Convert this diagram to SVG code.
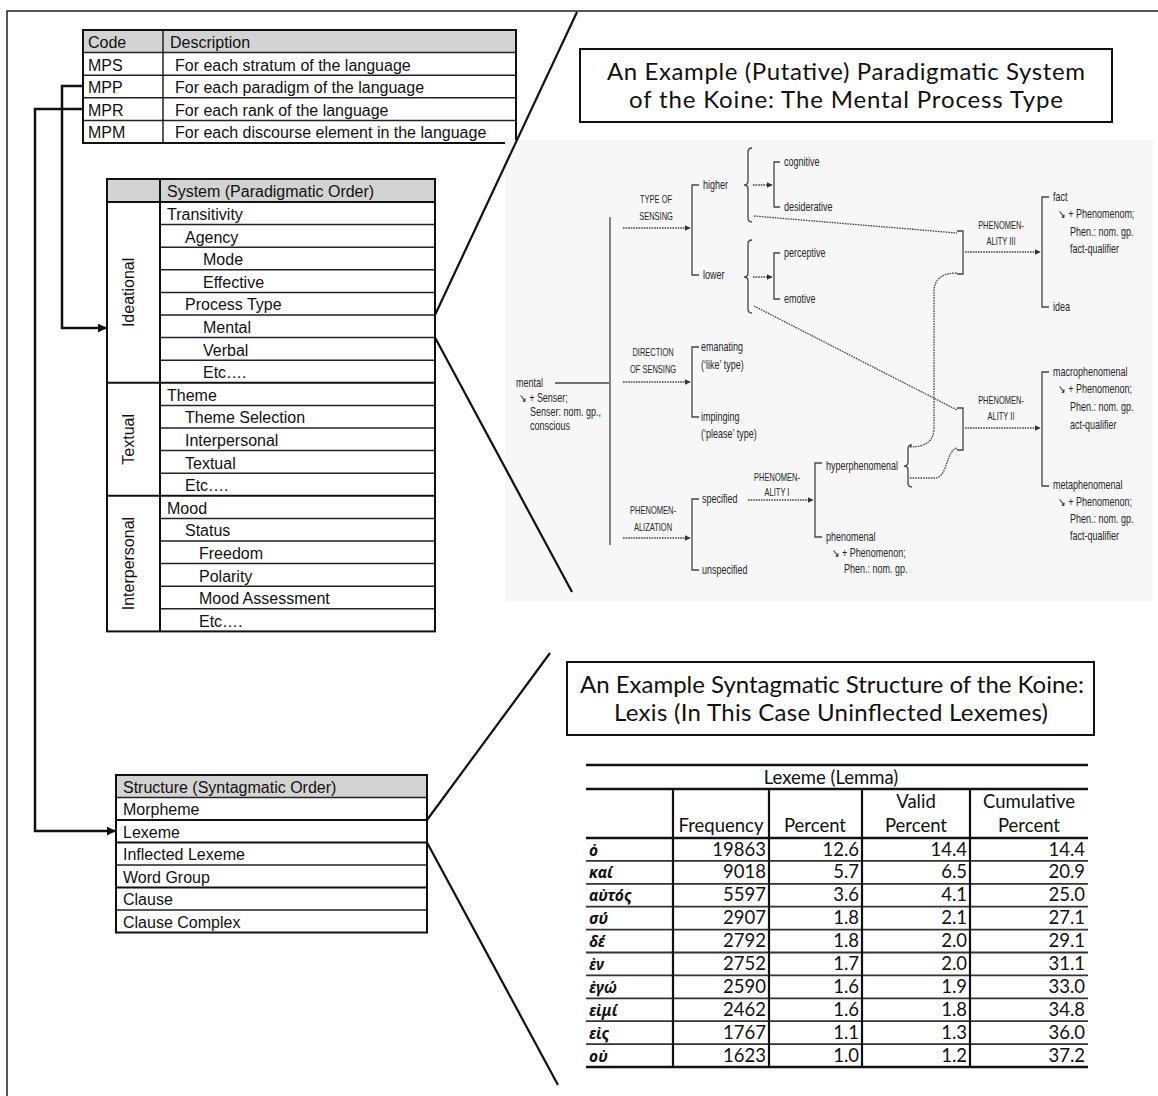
<svg xmlns="http://www.w3.org/2000/svg" width="1158" height="1096" viewBox="0 0 1158 1096">
  <defs>
    <marker id="arrowHead" viewBox="0 0 10 10" refX="9" refY="5" markerWidth="9" markerHeight="9" markerUnits="userSpaceOnUse" orient="auto">
      <path d="M0,0 L10,5 L0,10 z" fill="#111"/>
    </marker>
    <marker id="netArrow" viewBox="0 0 10 10" refX="9" refY="5" markerWidth="6" markerHeight="6" markerUnits="userSpaceOnUse" orient="auto">
      <path d="M0,0 L10,5 L0,10 z" fill="#333"/>
    </marker>
  </defs>
  <style>
    .frame { fill: none; stroke: #222; stroke-width: 1.5 }
    .border { fill: none; stroke: #111; stroke-width: 2 }
    .rule { stroke: #222; stroke-width: 1.5 }
    .head { fill: #d3d3d3 }
    .t { font-family: "Liberation Sans", Arial, sans-serif; font-size: 16px; fill: #111 }
    .conn { fill: none; stroke: #111; stroke-width: 2.5 }
    .zoom { fill: none; stroke: #111; stroke-width: 2.2 }
    .title { font-family: Lato, "Open Sans", sans-serif; font-size: 24px; fill: #111; text-anchor: middle }
    .net { font-family: "Liberation Sans", Arial, sans-serif; font-size: 12px; fill: #262626 }
    .cap { font-size: 10px; text-anchor: middle }
    .nl { fill: none; stroke: #444; stroke-width: 1.3 }
    .nd { fill: none; stroke: #444; stroke-width: 1.3; stroke-dasharray: 1.6 1 }
    .lx { font-family: Lato, "Open Sans", sans-serif; font-size: 18.5px; fill: #111 }
    .num { text-anchor: end }
    .mid { text-anchor: middle }
    .gk { font-family: "Noto Sans", "Open Sans", "DejaVu Sans", sans-serif; font-size: 15.5px; font-weight: bold; font-style: italic; fill: #111 }
    .thick { stroke: #111; stroke-width: 2.6 }
    .rowline { stroke: #333; stroke-width: 1.8 }
    .col { stroke: #111; stroke-width: 2.2 }
  </style>

  <!-- outer frame: only top and left edges fall inside the page -->
  <path class="frame" d="M7,1096 V11 H1158"/>

  <!-- code table -->
  <g id="code-table">
    <rect class="head" x="83" y="30" width="433" height="22.6"/>
    <line class="rule" x1="83" y1="52.6" x2="516" y2="52.6"/>
    <line class="rule" x1="83" y1="75.2" x2="516" y2="75.2"/>
    <line class="rule" x1="83" y1="97.8" x2="516" y2="97.8"/>
    <line class="rule" x1="83" y1="120.4" x2="516" y2="120.4"/>
    <line class="rule" x1="163" y1="30" x2="163" y2="143"/>
    <rect class="border" x="83" y="30" width="433" height="113"/>
    <text class="t" x="88" y="48">Code</text>
    <text class="t" x="170" y="48">Description</text>
    <text class="t" x="88" y="70.6">MPS</text>
    <text class="t" x="175" y="70.6">For each stratum of the language</text>
    <text class="t" x="88" y="93.2">MPP</text>
    <text class="t" x="175" y="93.2">For each paradigm of the language</text>
    <text class="t" x="88" y="115.8">MPR</text>
    <text class="t" x="175" y="115.8">For each rank of the language</text>
    <text class="t" x="88" y="138.4">MPM</text>
    <text class="t" x="175" y="138.4">For each discourse element in the language</text>
  </g>

  <!-- system (paradigmatic order) table -->
  <g id="system-table">
    <rect class="head" x="107" y="179" width="328" height="23"/>
    <g>
      <line class="rule" x1="160" y1="224.6" x2="435" y2="224.6"/>
      <line class="rule" x1="160" y1="247.2" x2="435" y2="247.2"/>
      <line class="rule" x1="160" y1="269.8" x2="435" y2="269.8"/>
      <line class="rule" x1="160" y1="292.4" x2="435" y2="292.4"/>
      <line class="rule" x1="160" y1="315" x2="435" y2="315"/>
      <line class="rule" x1="160" y1="337.6" x2="435" y2="337.6"/>
      <line class="rule" x1="160" y1="360.2" x2="435" y2="360.2"/>
      <line class="rule" x1="160" y1="405.4" x2="435" y2="405.4"/>
      <line class="rule" x1="160" y1="428" x2="435" y2="428"/>
      <line class="rule" x1="160" y1="450.6" x2="435" y2="450.6"/>
      <line class="rule" x1="160" y1="473.2" x2="435" y2="473.2"/>
      <line class="rule" x1="160" y1="518.4" x2="435" y2="518.4"/>
      <line class="rule" x1="160" y1="541" x2="435" y2="541"/>
      <line class="rule" x1="160" y1="563.6" x2="435" y2="563.6"/>
      <line class="rule" x1="160" y1="586.2" x2="435" y2="586.2"/>
      <line class="rule" x1="160" y1="608.8" x2="435" y2="608.8"/>
    </g>
    <line class="border" x1="107" y1="202" x2="435" y2="202"/>
    <line class="border" x1="107" y1="382.8" x2="435" y2="382.8"/>
    <line class="border" x1="107" y1="495.8" x2="435" y2="495.8"/>
    <line class="border" x1="160" y1="179" x2="160" y2="631.4"/>
    <rect class="border" x="107" y="179" width="328" height="452.4"/>
    <text class="t" x="167" y="197">System (Paradigmatic Order)</text>
    <text class="t" x="167" y="220">Transitivity</text>
    <text class="t" x="185" y="242.6">Agency</text>
    <text class="t" x="203" y="265.2">Mode</text>
    <text class="t" x="203" y="287.8">Effective</text>
    <text class="t" x="185" y="310.4">Process Type</text>
    <text class="t" x="203" y="333">Mental</text>
    <text class="t" x="203" y="355.6">Verbal</text>
    <text class="t" x="203" y="378.2">Etc….</text>
    <text class="t" x="167" y="400.8">Theme</text>
    <text class="t" x="185" y="423.4">Theme Selection</text>
    <text class="t" x="185" y="446">Interpersonal</text>
    <text class="t" x="185" y="468.6">Textual</text>
    <text class="t" x="185" y="491.2">Etc….</text>
    <text class="t" x="167" y="513.8">Mood</text>
    <text class="t" x="185" y="536.4">Status</text>
    <text class="t" x="199" y="559">Freedom</text>
    <text class="t" x="199" y="581.6">Polarity</text>
    <text class="t" x="199" y="604.2">Mood Assessment</text>
    <text class="t" x="199" y="626.8">Etc….</text>
    <text class="t" text-anchor="middle" transform="translate(134,292.4) rotate(-90)">Ideational</text>
    <text class="t" text-anchor="middle" transform="translate(134,439.3) rotate(-90)">Textual</text>
    <text class="t" text-anchor="middle" transform="translate(134,563.6) rotate(-90)">Interpersonal</text>
  </g>

  <!-- structure (syntagmatic order) table -->
  <g id="structure-table">
    <rect class="head" x="116" y="775" width="311" height="22.5"/>
    <line class="rule" x1="116" y1="797.5" x2="427" y2="797.5"/>
    <line class="border" x1="116" y1="820" x2="427" y2="820"/>
    <line class="border" x1="116" y1="842.5" x2="427" y2="842.5"/>
    <line class="rule" x1="116" y1="865" x2="427" y2="865"/>
    <line class="border" x1="116" y1="887.5" x2="427" y2="887.5"/>
    <line class="rule" x1="116" y1="910" x2="427" y2="910"/>
    <rect class="border" x="116" y="775" width="311" height="157.5"/>
    <text class="t" x="123" y="792.5">Structure (Syntagmatic Order)</text>
    <text class="t" x="123" y="815">Morpheme</text>
    <text class="t" x="123" y="837.5">Lexeme</text>
    <text class="t" x="123" y="860">Inflected Lexeme</text>
    <text class="t" x="123" y="882.5">Word Group</text>
    <text class="t" x="123" y="905">Clause</text>
    <text class="t" x="123" y="927.5">Clause Complex</text>
  </g>

  <!-- title boxes -->
  <g id="title-paradigmatic">
    <rect class="border" x="580" y="49" width="532" height="73"/>
    <text class="title" x="846" y="80" textLength="478" lengthAdjust="spacing">An Example (Putative) Paradigmatic System</text>
    <text class="title" x="846" y="108" textLength="434" lengthAdjust="spacing">of the Koine: The Mental Process Type</text>
  </g>
  <g id="title-syntagmatic">
    <rect class="border" x="567" y="662" width="527" height="73"/>
    <text class="title" x="832" y="693" textLength="504" lengthAdjust="spacing">An Example Syntagmatic Structure of the Koine:</text>
    <text class="title" x="831" y="721" textLength="434" lengthAdjust="spacing">Lexis (In This Case Uninflected Lexemes)</text>
  </g>

  <!-- system network for the mental process type -->
  <g id="network">
    <rect x="505" y="140" width="648" height="462" fill="#f7f7f7"/>
    <!-- entry and its conjunction bar -->
    <line class="nl" x1="555" y1="383" x2="609" y2="383"/>
    <line class="nl" x1="610" y1="217" x2="610" y2="545"/>

    <!-- type of sensing -->
    <line class="nd" x1="623" y1="228" x2="690" y2="228" marker-end="url(#netArrow)"/>
    <path class="nl" d="M699,185 H692 V275 H699"/>
    <path class="nl" d="M752,148 Q748,148 748,152 V181 Q748,185 744,185 Q748,185 748,189 V218 Q748,222 752,222"/>
    <line class="nd" x1="753" y1="185" x2="772" y2="185" marker-end="url(#netArrow)"/>
    <path class="nl" d="M780,162 H774 V207 H780"/>
    <path class="nl" d="M752,240 Q748,240 748,244 V273 Q748,277 744,277 Q748,277 748,281 V309 Q748,313 752,313"/>
    <line class="nd" x1="753" y1="277" x2="772" y2="277" marker-end="url(#netArrow)"/>
    <path class="nl" d="M780,253 H774 V299 H780"/>

    <!-- direction of sensing -->
    <line class="nd" x1="623" y1="382" x2="690" y2="382" marker-end="url(#netArrow)"/>
    <path class="nl" d="M699,347 H692 V417 H699"/>

    <!-- phenomenalization -->
    <line class="nd" x1="623" y1="538" x2="690" y2="538" marker-end="url(#netArrow)"/>
    <path class="nl" d="M699,499 H692 V570 H699"/>

    <!-- phenomenality I -->
    <line class="nd" x1="748" y1="500" x2="813" y2="500" marker-end="url(#netArrow)"/>
    <path class="nl" d="M822,463 H815 V537 H822"/>
    <path class="nl" d="M912,445 Q908,445 908,449 V462 Q908,466 904,466 Q908,466 908,470 V483 Q908,487 912,487"/>

    <!-- links into phenomenality III and II -->
    <line class="nd" x1="754" y1="216" x2="957" y2="233"/>
    <line class="nd" x1="754" y1="306" x2="957" y2="410"/>
    <path class="nd" d="M910,447 Q934,447 934,428 V292 Q934,273 957,273"/>
    <path class="nd" d="M910,478 H935 C948,478 946,448 958,448"/>

    <!-- phenomenality III -->
    <path class="nl" d="M957,231 H963 V274 H957"/>
    <line class="nd" x1="965" y1="252" x2="1040" y2="252" marker-end="url(#netArrow)"/>
    <path class="nl" d="M1049,197 H1042 V307 H1049"/>

    <!-- phenomenality II -->
    <path class="nl" d="M957,408 H963 V450 H957"/>
    <line class="nd" x1="965" y1="428" x2="1040" y2="428" marker-end="url(#netArrow)"/>
    <path class="nl" d="M1049,372 H1042 V486 H1049"/>

    <!-- labels, set in a horizontally condensed frame (x values are divided by 0.75) -->
    <g transform="scale(0.75 1)">
      <text class="net" x="688" y="387">mental</text>
      <text class="net" x="692" y="402">↘ + Senser;</text>
      <text class="net" x="706.7" y="416">Senser: nom. gp.,</text>
      <text class="net" x="706.7" y="430">conscious</text>

      <text class="net cap" x="874.7" y="203">TYPE OF</text>
      <text class="net cap" x="874.7" y="220">SENSING</text>
      <text class="net" x="937.3" y="189">higher</text>
      <text class="net" x="937.3" y="279">lower</text>
      <text class="net" x="1045.3" y="166">cognitive</text>
      <text class="net" x="1045.3" y="211">desiderative</text>
      <text class="net" x="1045.3" y="257">perceptive</text>
      <text class="net" x="1045.3" y="303">emotive</text>

      <text class="net cap" x="870.7" y="356">DIRECTION</text>
      <text class="net cap" x="870.7" y="373">OF SENSING</text>
      <text class="net" x="934.7" y="351">emanating</text>
      <text class="net" x="934.7" y="369">(‘like’ type)</text>
      <text class="net" x="934.7" y="421">impinging</text>
      <text class="net" x="934.7" y="438">(‘please’ type)</text>

      <text class="net cap" x="870.7" y="514">PHENOMEN-</text>
      <text class="net cap" x="870.7" y="531">ALIZATION</text>
      <text class="net" x="936" y="503">specified</text>
      <text class="net" x="936" y="574">unspecified</text>

      <text class="net cap" x="1036" y="481">PHENOMEN-</text>
      <text class="net cap" x="1036" y="496">ALITY I</text>
      <text class="net" x="1101.3" y="470">hyperphenomenal</text>
      <text class="net" x="1101.3" y="541">phenomenal</text>
      <text class="net" x="1109.3" y="557">↘ + Phenomenon;</text>
      <text class="net" x="1125.3" y="573">Phen.: nom. gp.</text>

      <text class="net cap" x="1334.7" y="229">PHENOMEN-</text>
      <text class="net cap" x="1334.7" y="245">ALITY III</text>
      <text class="net" x="1404" y="201">fact</text>
      <text class="net" x="1410.7" y="218">↘ + Phenomenom;</text>
      <text class="net" x="1426.7" y="236">Phen.: nom. gp.</text>
      <text class="net" x="1426.7" y="253">fact-qualifier</text>
      <text class="net" x="1404" y="311">idea</text>

      <text class="net cap" x="1334.7" y="404">PHENOMEN-</text>
      <text class="net cap" x="1334.7" y="420">ALITY II</text>
      <text class="net" x="1404" y="376">macrophenomenal</text>
      <text class="net" x="1410.7" y="393">↘ + Phenomenon;</text>
      <text class="net" x="1426.7" y="411">Phen.: nom. gp.</text>
      <text class="net" x="1426.7" y="429">act-qualifier</text>
      <text class="net" x="1404" y="489">metaphenomenal</text>
      <text class="net" x="1410.7" y="506">↘ + Phenomenon;</text>
      <text class="net" x="1426.7" y="523">Phen.: nom. gp.</text>
      <text class="net" x="1426.7" y="540">fact-qualifier</text>
    </g>
  </g>

  <!-- connectors from the code table and the zoom lines -->
  <g id="connectors">
    <path class="conn" d="M83,86 H62 V328 H106" marker-end="url(#arrowHead)"/>
    <path class="conn" d="M83,109 H35 V831 H115" marker-end="url(#arrowHead)"/>
    <line class="zoom" x1="435" y1="315" x2="577" y2="12"/>
    <line class="zoom" x1="435" y1="337.6" x2="572" y2="592"/>
    <line class="zoom" x1="427" y1="820" x2="550" y2="653"/>
    <line class="zoom" x1="427" y1="842.5" x2="558" y2="1085"/>
  </g>

  <!-- lexeme frequency table -->
  <g id="lexeme-table">
    <line class="thick" x1="586" y1="765" x2="1088" y2="765"/>
    <line class="thick" x1="586" y1="789" x2="1088" y2="789"/>
    <line class="thick" x1="586" y1="838" x2="1088" y2="838"/>
    <g>
      <line class="rowline" x1="586" y1="860.9" x2="1088" y2="860.9"/>
      <line class="rowline" x1="586" y1="883.8" x2="1088" y2="883.8"/>
      <line class="rowline" x1="586" y1="906.7" x2="1088" y2="906.7"/>
      <line class="rowline" x1="586" y1="929.6" x2="1088" y2="929.6"/>
      <line class="rowline" x1="586" y1="952.5" x2="1088" y2="952.5"/>
      <line class="rowline" x1="586" y1="975.4" x2="1088" y2="975.4"/>
      <line class="rowline" x1="586" y1="998.3" x2="1088" y2="998.3"/>
      <line class="rowline" x1="586" y1="1021.2" x2="1088" y2="1021.2"/>
      <line class="rowline" x1="586" y1="1044.1" x2="1088" y2="1044.1"/>
    </g>
    <line class="thick" x1="586" y1="1067" x2="1088" y2="1067"/>
    <line class="col" x1="673" y1="789" x2="673" y2="1067"/>
    <line class="col" x1="769" y1="789" x2="769" y2="1067"/>
    <line class="col" x1="862" y1="789" x2="862" y2="1067"/>
    <line class="col" x1="970" y1="789" x2="970" y2="1067"/>

    <text class="lx mid" x="831" y="784">Lexeme (Lemma)</text>
    <text class="lx mid" x="916" y="808">Valid</text>
    <text class="lx mid" x="1029" y="808">Cumulative</text>
    <text class="lx mid" x="721" y="832">Frequency</text>
    <text class="lx mid" x="815" y="832">Percent</text>
    <text class="lx mid" x="916" y="832">Percent</text>
    <text class="lx mid" x="1029" y="832">Percent</text>

    <g>
      <text class="gk" x="589" y="855.5">ὁ</text>
      <text class="lx num" x="766" y="855.5">19863</text>
      <text class="lx num" x="859" y="855.5">12.6</text>
      <text class="lx num" x="967" y="855.5">14.4</text>
      <text class="lx num" x="1085" y="855.5">14.4</text>

      <text class="gk" x="589" y="878.4">καί</text>
      <text class="lx num" x="766" y="878.4">9018</text>
      <text class="lx num" x="859" y="878.4">5.7</text>
      <text class="lx num" x="967" y="878.4">6.5</text>
      <text class="lx num" x="1085" y="878.4">20.9</text>

      <text class="gk" x="589" y="901.3">αὐτός</text>
      <text class="lx num" x="766" y="901.3">5597</text>
      <text class="lx num" x="859" y="901.3">3.6</text>
      <text class="lx num" x="967" y="901.3">4.1</text>
      <text class="lx num" x="1085" y="901.3">25.0</text>

      <text class="gk" x="589" y="924.2">σύ</text>
      <text class="lx num" x="766" y="924.2">2907</text>
      <text class="lx num" x="859" y="924.2">1.8</text>
      <text class="lx num" x="967" y="924.2">2.1</text>
      <text class="lx num" x="1085" y="924.2">27.1</text>

      <text class="gk" x="589" y="947.1">δέ</text>
      <text class="lx num" x="766" y="947.1">2792</text>
      <text class="lx num" x="859" y="947.1">1.8</text>
      <text class="lx num" x="967" y="947.1">2.0</text>
      <text class="lx num" x="1085" y="947.1">29.1</text>

      <text class="gk" x="589" y="970">ἐν</text>
      <text class="lx num" x="766" y="970">2752</text>
      <text class="lx num" x="859" y="970">1.7</text>
      <text class="lx num" x="967" y="970">2.0</text>
      <text class="lx num" x="1085" y="970">31.1</text>

      <text class="gk" x="589" y="992.9">ἐγώ</text>
      <text class="lx num" x="766" y="992.9">2590</text>
      <text class="lx num" x="859" y="992.9">1.6</text>
      <text class="lx num" x="967" y="992.9">1.9</text>
      <text class="lx num" x="1085" y="992.9">33.0</text>

      <text class="gk" x="589" y="1015.8">εἰμί</text>
      <text class="lx num" x="766" y="1015.8">2462</text>
      <text class="lx num" x="859" y="1015.8">1.6</text>
      <text class="lx num" x="967" y="1015.8">1.8</text>
      <text class="lx num" x="1085" y="1015.8">34.8</text>

      <text class="gk" x="589" y="1038.7">εἰς</text>
      <text class="lx num" x="766" y="1038.7">1767</text>
      <text class="lx num" x="859" y="1038.7">1.1</text>
      <text class="lx num" x="967" y="1038.7">1.3</text>
      <text class="lx num" x="1085" y="1038.7">36.0</text>

      <text class="gk" x="589" y="1061.6">οὐ</text>
      <text class="lx num" x="766" y="1061.6">1623</text>
      <text class="lx num" x="859" y="1061.6">1.0</text>
      <text class="lx num" x="967" y="1061.6">1.2</text>
      <text class="lx num" x="1085" y="1061.6">37.2</text>
    </g>
  </g>
</svg>
